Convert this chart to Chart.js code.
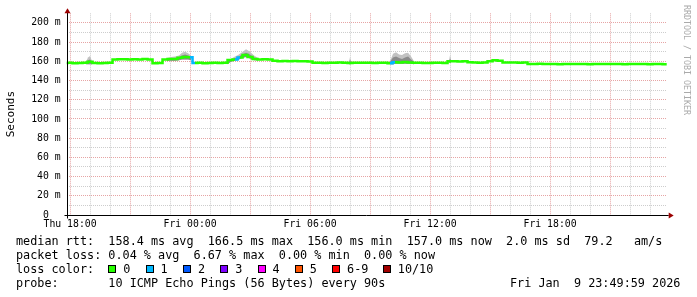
<!DOCTYPE html>
<html>
<head>
<meta charset="utf-8">
<script src="https://cdn.jsdelivr.net/npm/chart.js@4.4.1/dist/chart.umd.min.js"></script>
<style>
  html, body { margin: 0; padding: 0; background: #fff; }
  #wrap { position: relative; width: 697px; height: 297px; overflow: hidden; background: #fff; }
  #chart { position: absolute; left: 0; top: 0; }
  .txt { position: absolute; font-family: 'DejaVu Sans Mono', monospace; font-size: 11.8px; line-height: 14px; white-space: pre; color: #000; }
  .sw { position: absolute; width: 6px; height: 6px; border: 1px solid #000; }
  #mark { position: absolute; left: 682px; top: 5px; font-family: 'DejaVu Sans Mono', monospace; font-size: 8.3px; line-height: 9px; color: #aaa; writing-mode: vertical-rl; white-space: pre; }
</style>
</head>
<body>
<div id="wrap">
  <canvas id="chart" width="697" height="297"></canvas>
  <div id="mark">RRDTOOL / TOBI OETIKER</div>
  <div class="txt" style="left:16px;top:234px">median rtt:  158.4 ms avg  166.5 ms max  156.0 ms min  157.0 ms now  2.0 ms sd  79.2   am/s</div>
  <div class="txt" style="left:16px;top:248px">packet loss: 0.04 % avg  6.67 % max  0.00 % min  0.00 % now</div>
  <div class="txt" style="left:16px;top:262px">loss color:</div>
  <div class="txt" style="left:16px;top:276px">probe:       10 ICMP Echo Pings (56 Bytes) every 90s</div>
  <div class="txt" style="left:510px;top:276px">Fri Jan  9 23:49:59 2026</div>
</div>
<script>
// hours after Thu 18:00, one sample every 15 minutes starting at 17:45
const startHour = -0.25;
const stepHour = 0.25;

// median rtt (ms)
const median = [
  158.3, 158.5, 158.0, 158.3, 158.6, 159.6, 158.2, 158.0, 158.2, 158.4, 162.0, 162.2,
  162.1, 161.9, 162.2, 162.0, 162.3, 161.8, 158.0, 158.3, 162.0, 162.3, 162.5, 163.8,
  164.6, 164.2, 158.2, 158.4, 158.1, 158.3, 158.5, 158.2, 158.4, 161.5, 162.0, 164.0,
  166.5, 164.5, 162.3, 162.0, 162.1, 161.8, 160.5, 160.2, 160.3, 160.0, 160.4, 160.2,
  160.2, 159.8, 158.6, 158.5, 158.3, 158.6, 158.4, 158.7, 158.5, 158.3, 158.5, 158.6,
  158.4, 158.6, 158.3, 158.5, 158.4, 158.0, 159.0, 158.8, 159.2, 158.9, 158.4, 158.5,
  158.3, 158.2, 158.5, 158.4, 158.3, 160.0, 160.2, 159.8, 160.0, 159.0, 158.8, 158.6,
  158.7, 160.2, 161.0, 160.6, 158.9, 158.7, 158.8, 158.6, 158.7, 157.3, 157.2, 157.4,
  157.1, 157.3, 157.2, 157.0, 157.3, 157.2, 157.1, 157.3, 157.2, 157.0, 157.2, 157.3,
  157.2, 157.1, 157.3, 157.2, 157.0, 157.2, 157.3, 157.1, 157.2, 157.0, 157.2, 157.1,
  157.0, 157.0
];

// lost pings out of 10, per sample
const loss = [
  0, 0, 0, 0, 0, 0, 0, 0, 0, 0, 0, 0,
  0, 0, 0, 0, 0, 0, 0, 0, 0, 0, 0, 0,
  0, 1, 0, 0, 0, 0, 0, 0, 0, 0, 1, 0,
  0, 0, 0, 0, 0, 0, 0, 0, 0, 0, 0, 0,
  0, 0, 0, 0, 0, 0, 0, 0, 0, 0, 0, 0,
  0, 0, 0, 0, 0, 1, 0, 0, 0, 0, 0, 0,
  0, 0, 0, 0, 0, 0, 0, 0, 0, 0, 0, 0,
  0, 0, 0, 0, 0, 0, 0, 0, 0, 0, 0, 0,
  0, 0, 0, 0, 0, 0, 0, 0, 0, 0, 0, 0,
  0, 0, 0, 0, 0, 0, 0, 0, 0, 0, 0, 0,
  0, 0
];

// smoke (spread of the single pings), only where it shows above the median line
const smokeT   = [0.8, 0.9, 1.0, 1.1, 1.2,
  4.85, 5.05, 5.25, 5.45, 5.6, 5.75, 5.9, 6.05, 6.2,
  7.85, 8.05, 8.2, 8.4, 8.6, 8.8, 9.0, 9.2, 9.4, 9.5,
  13.95, 14.0, 14.05, 14.1,
  16.0, 16.15, 16.3, 16.45, 16.6, 16.75, 16.9, 17.05, 17.2, 17.3,
  18.95, 19.0, 19.05];
const smokeHi  = [159.5, 164, 165.5, 160, null,
  163.5, 164.5, 165, 166, 169, 170, 168.5, 166, null,
  159.5, 162.5, 164.5, 166.5, 169.5, 172.5, 170, 166, 163.5, null,
  159.5, 164.5, 159.5, null,
  160, 168, 169.5, 167, 166.5, 168.5, 169, 165, 160, null,
  160.5, 166.5, 161];
const smokeMid = [159, 161, 162, 159.5, null,
  163, 163.5, 163.5, 164.5, 166, 167, 166, 164.5, null,
  159, 161.5, 163, 164.5, 167, 169, 167, 164, 163, null,
  159, 161.5, 159, null,
  159.5, 164, 165, 163.5, 162.5, 164, 165, 162, 159.5, null,
  160, 163, 160.5];
const smokeLo  = [157, 157, 157, 157, null,
  160.5, 160.5, 160.5, 161, 162, 162, 162, 161, null,
  157, 159.5, 160.5, 161.5, 163.5, 164.5, 163, 161, 161, null,
  157, 157, 157, null,
  157, 157, 157.5, 157.5, 157.5, 157.5, 157.5, 157.5, 157, null,
  158.5, 158.5, 158.5];

// hourly grid, labelled every 6 hours
const gridHours = [0, 1, 2, 3, 4, 5, 6, 7, 8, 9, 10, 11, 12, 13, 14, 15, 16, 17, 18, 19, 20, 21, 22, 23, 24, 25, 26, 27, 28, 29];
const xTickLabels = ['Thu 18:00', 'Fri 00:00', 'Fri 06:00', 'Fri 12:00', 'Fri 18:00'];
const lossLabels = ['0', '1', '2', '3', '4', '5', '6-9', '10/10'];
const lossColors = ['#26ff00', '#00b8ff', '#0059ff', '#7e00ff', '#ff00ff', '#ff5500', '#ff0000', '#a10000'];

// loss colour legend row
const wrap = document.getElementById('wrap');
let bx = 108.3;
lossLabels.forEach((lab, k) => {
    const sw = document.createElement('div');
    sw.className = 'sw';
    sw.style.left = bx + 'px';
    sw.style.top = '265px';
    sw.style.background = lossColors[k];
    wrap.appendChild(sw);
    const tx = document.createElement('div');
    tx.className = 'txt';
    tx.style.left = (bx + 15) + 'px';
    tx.style.top = '262px';
    tx.textContent = lab;
    wrap.appendChild(tx);
    bx += 30.6 + lab.length * 6.7;
});

const pts = (xs, ys) => ys.map((y, i) => ({ x: xs[i], y: y }));
const times = median.map((_, i) => startHour + i * stepHour);

const MAJOR = '#e6a4a4';
const MINOR = '#cdcdcd';
const tickFont = { family: 'DejaVu Sans Mono', size: 9.8 };

// black axes with the dark red arrow heads
const axisArrows = {
    id: 'axisArrows',
    afterDraw(chart) {
        const { ctx, chartArea: a } = chart;
        const x0 = Math.round(a.left) + 0.5;
        const y0 = Math.round(a.bottom) + 0.5;
        ctx.save();
        ctx.strokeStyle = '#000';
        ctx.lineWidth = 1;
        ctx.beginPath();
        ctx.moveTo(x0, y0 + 3);
        ctx.lineTo(x0, a.top - 1);
        ctx.moveTo(x0 - 3, y0);
        ctx.lineTo(a.right + 2, y0);
        ctx.stroke();
        ctx.fillStyle = '#9b0000';
        ctx.beginPath();
        ctx.moveTo(x0, a.top - 5);
        ctx.lineTo(x0 - 3, a.top);
        ctx.lineTo(x0 + 3, a.top);
        ctx.closePath();
        ctx.fill();
        ctx.beginPath();
        ctx.moveTo(a.right + 7, y0);
        ctx.lineTo(a.right + 2, y0 - 3);
        ctx.lineTo(a.right + 2, y0 + 3);
        ctx.closePath();
        ctx.fill();
        ctx.restore();
    }
};

new Chart(document.getElementById('chart').getContext('2d'), {
    type: 'line',
    data: {
        datasets: [
            {
                data: pts(times, median),
                borderColor: lossColors[0],
                borderWidth: 2.5,
                pointRadius: 0,
                stepped: 'middle',
                fill: false,
                segment: { borderColor: c => lossColors[loss[c.p0DataIndex]] }
            },
            { data: pts(smokeT, smokeMid), borderWidth: 0, borderColor: 'rgba(0,0,0,0)', pointRadius: 0, fill: 3, backgroundColor: '#8a8a8a' },
            { data: pts(smokeT, smokeHi), borderWidth: 0, borderColor: 'rgba(0,0,0,0)', pointRadius: 0, fill: 3, backgroundColor: '#c2c2c2' },
            { data: pts(smokeT, smokeLo), borderWidth: 0, borderColor: 'rgba(0,0,0,0)', pointRadius: 0, fill: false }
        ]
    },
    options: {
        responsive: false,
        animation: false,
        devicePixelRatio: 1,
        layout: { padding: { left: 0, top: 13.3, right: 30.3, bottom: 62 } },
        plugins: { legend: { display: false }, tooltip: { enabled: false } },
        scales: {
            x: {
                type: 'linear',
                min: -1 / 6,
                max: 29 + 5 / 6,
                afterFit: s => { s.height = 20; },
                afterBuildTicks: s => { s.ticks = gridHours.map(h => ({ value: h })); },
                border: { display: false, dash: [1, 1] },
                grid: {
                    drawTicks: false,
                    color: c => (c.tick.value % 3 === 0 ? MAJOR : MINOR)
                },
                ticks: {
                    autoSkip: false,
                    maxRotation: 0,
                    padding: 4,
                    color: '#000',
                    font: tickFont,
                    callback: v => (v % 6 === 0 ? xTickLabels[v / 6] : '')
                }
            },
            y: {
                min: 0,
                max: 210,
                afterFit: s => { s.width = 66.7; },
                border: { display: false, dash: [1, 1] },
                grid: {
                    drawTicks: false,
                    color: c => (c.tick.value >= 210 ? 'rgba(0,0,0,0)' : c.tick.value % 20 === 0 ? MAJOR : MINOR)
                },
                ticks: {
                    stepSize: 10,
                    autoSkip: false,
                    padding: 6,
                    color: '#000',
                    font: tickFont,
                    callback: v => (v % 20 !== 0 ? '' : v === 0 ? '0  ' : v + ' m')
                },
                title: {
                    display: true,
                    text: 'Seconds',
                    color: '#000',
                    font: { family: 'DejaVu Sans Mono', size: 11 },
                    padding: { top: 5, bottom: 0 }
                }
            }
        }
    },
    plugins: [axisArrows]
});
</script>
</body>
</html>
